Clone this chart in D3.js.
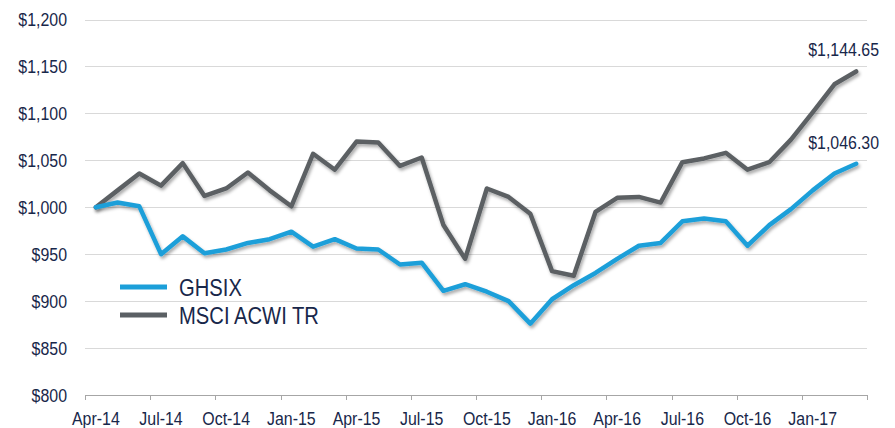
<!DOCTYPE html>
<html>
<head>
<meta charset="utf-8">
<script src="https://cdn.jsdelivr.net/npm/d3@7"></script>
<style>
  html, body { margin: 0; padding: 0; background: #fff; }
  svg { display: block; }
  text { font-family: "Liberation Sans", Arial, sans-serif; fill: #18274a; }
</style>
</head>
<body>
<svg id="chart" width="895" height="428"></svg>
<script>
const months = ["Apr-14","May-14","Jun-14","Jul-14","Aug-14","Sep-14","Oct-14","Nov-14","Dec-14",
  "Jan-15","Feb-15","Mar-15","Apr-15","May-15","Jun-15","Jul-15","Aug-15","Sep-15","Oct-15","Nov-15","Dec-15",
  "Jan-16","Feb-16","Mar-16","Apr-16","May-16","Jun-16","Jul-16","Aug-16","Sep-16","Oct-16","Nov-16","Dec-16",
  "Jan-17","Feb-17","Mar-17"];
const ghsix = [1000,1005,1001,950,969,951,955,962,966,974,958,966,956,955,939,941,911,918,910,900,876,
  902,917,930,945,959,962,985,988,985,959,981,998,1018,1036,1046.30];
const acwi = [1000,1018,1036,1023,1047,1012,1020,1037,1018,1001,1057,1040,1070,1069,1044,1053,981,945,1020,1011,993,
  932,927,995,1010,1011,1005,1048,1052,1058,1040,1048,1072,1101,1131,1144.65];
const yTicks = [800,850,900,950,1000,1050,1100,1150,1200];
const seriesNames = ["GHSIX","MSCI ACWI TR"];
const seriesColors = ["#1c9fd9","#5b6064"];
const endLabels = ["$1,046.30","$1,144.65"];

const svg = d3.select("#chart");
const x = d3.scaleBand().domain(months).range([85, 867]).paddingInner(0).paddingOuter(0);
const y = d3.scaleLinear().domain([800, 1200]).range([395, 19.5]);
const cx = m => x(m) + x.bandwidth() / 2;
const SX = 0.86; // condensed look

function ctext(g, tx, ty, str, size, anchor) {
  return g.append("text")
    .attr("transform", `translate(${tx},${ty}) scale(${SX},1)`)
    .attr("text-anchor", anchor).attr("font-size", size).text(str);
}

const defs = svg.append("defs");
const f = defs.append("filter").attr("id","shadow").attr("x","-10%").attr("y","-10%").attr("width","120%").attr("height","130%");
f.append("feDropShadow").attr("dx",1.5).attr("dy",2.5).attr("stdDeviation",1.8).attr("flood-color","#000").attr("flood-opacity",0.33);

// gridlines
svg.append("g").selectAll("line").data(yTicks.filter(t => t > 800)).join("line")
  .attr("x1", 85).attr("x2", 867)
  .attr("y1", d => Math.round(y(d)) + 0.5).attr("y2", d => Math.round(y(d)) + 0.5)
  .attr("stroke", "#d9d9d9").attr("stroke-width", 1);

// y labels
const gy = svg.append("g");
yTicks.forEach(t => ctext(gy, 67, y(t) + 6.5, "$" + d3.format(",")(t), 18.5, "end"));

// x axis
const ax = svg.append("g");
ax.append("line").attr("x1", 85).attr("x2", 867).attr("y1", 395.5).attr("y2", 395.5)
  .attr("stroke", "#a6a6a6").attr("stroke-width", 1);
const tickCats = months.filter((m, i) => i % 3 === 0);
const tickXs = tickCats.map(m => x(m)).concat([x.range()[1]]);
ax.selectAll("line.tick").data(tickXs).join("line").attr("class","tick")
  .attr("x1", d => Math.round(d) + 0.5).attr("x2", d => Math.round(d) + 0.5)
  .attr("y1", 395).attr("y2", 400).attr("stroke", "#a6a6a6");
tickCats.forEach(m => ctext(ax, cx(m), 424.5, m, 18.5, "middle"));

// lines
const line = d3.line().x((d, i) => cx(months[i])).y(d => y(d));
const series = [ghsix, acwi];
svg.append("g").selectAll("path").data([acwi, ghsix]).join("path")
  .attr("d", d => line(d)).attr("fill", "none")
  .attr("stroke", (d) => d === acwi ? seriesColors[1] : seriesColors[0])
  .attr("stroke-width", 4.5).attr("stroke-linejoin", "round").attr("stroke-linecap", "round")
  .attr("filter", "url(#shadow)");

// end labels
const ge = svg.append("g");
series.forEach((s, k) => ctext(ge, 879, y(s[s.length - 1]) - 15, endLabels[k], 18.5, "end"));

// legend
const lg = svg.append("g");
seriesNames.forEach((n, k) => {
  const ly = 287 + k * 28;
  lg.append("line").attr("x1", 120).attr("x2", 167).attr("y1", ly).attr("y2", ly)
    .attr("stroke", seriesColors[k]).attr("stroke-width", 5);
  ctext(lg, 179, ly + 8.5, n, 23.5, "start");
});
</script>
</body>
</html>
